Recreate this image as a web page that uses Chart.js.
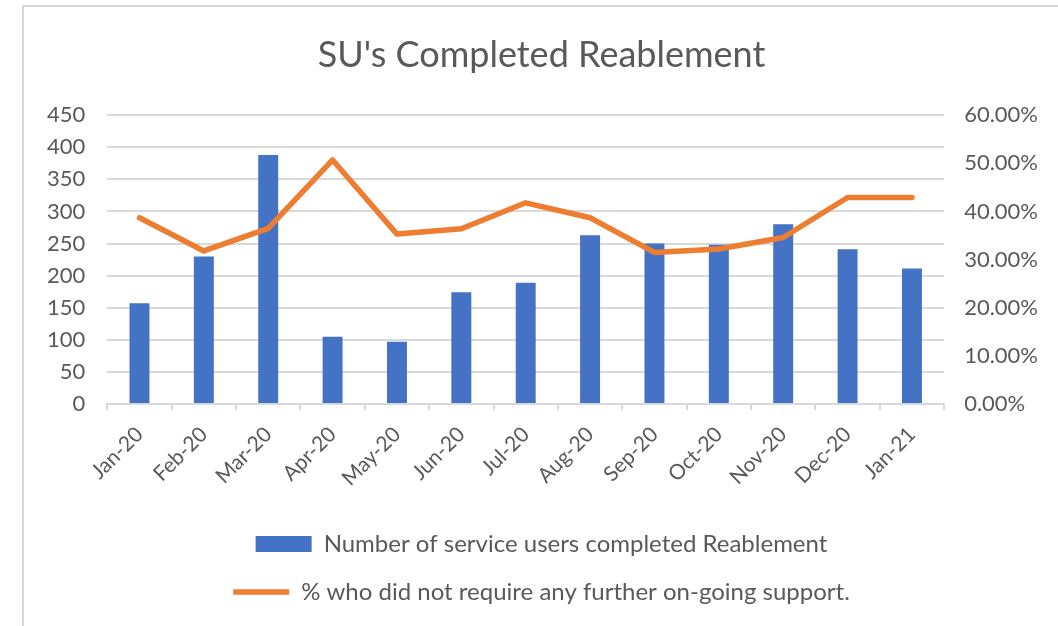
<!DOCTYPE html>
<html>
<head>
<meta charset="utf-8">
<script src="https://cdn.jsdelivr.net/npm/chart.js@4.4.1/dist/chart.umd.min.js"></script>
<style>
  body { margin: 0; background: #fff; }
  .frame { position: absolute; left: 22px; top: 5px; width: 1100px; height: 700px;
           border-left: 2px solid #d9d9d9; border-top: 2px solid #d9d9d9; }
  .wrap { position: absolute; left: 0; top: 0; width: 1058px; height: 626px; }
</style>
</head>
<body>
<div class="frame"></div>
<div class="wrap"><canvas id="myChart" width="1058" height="626"></canvas></div>
<script>
  const months = ['Jan-20', 'Feb-20', 'Mar-20', 'Apr-20', 'May-20', 'Jun-20', 'Jul-20',
                  'Aug-20', 'Sep-20', 'Oct-20', 'Nov-20', 'Dec-20', 'Jan-21'];
  const completed = [157, 230, 388, 105, 97, 174, 189, 263, 250, 248, 280, 241, 211];
  const noFurtherSupport = [38.7, 31.8, 36.5, 50.7, 35.3, 36.4, 41.8, 38.7, 31.5, 32.2, 34.6, 42.9, 42.9];
  const leftTicks = [0, 50, 100, 150, 200, 250, 300, 350, 400, 450];
  const rightTicks = [0, 10, 20, 30, 40, 50, 60];

  const grey = '#595959';
  const font = 'Lato, "Open Sans", sans-serif';

  const ctx = document.getElementById('myChart').getContext('2d');
  const myChart = new Chart(ctx, {
    data: {
      labels: months,
      datasets: [{
        type: 'line',
        label: '% who did not require any further on-going support.',
        data: noFurtherSupport,
        yAxisID: 'yRight',
        borderColor: '#ED7D31',
        backgroundColor: '#ED7D31',
        borderWidth: 5.5,
        pointRadius: 0,
        pointHoverRadius: 0,
        pointStyle: 'line',
        tension: 0,
        borderJoinStyle: 'round',
        borderCapStyle: 'round',
        order: 1
      }, {
        type: 'bar',
        label: 'Number of service users completed Reablement',
        data: completed,
        yAxisID: 'yLeft',
        backgroundColor: '#4472C4',
        borderWidth: 0,
        pointStyle: 'rect',
        barPercentage: 0.31,
        categoryPercentage: 1,
        order: 2
      }]
    },
    options: {
      responsive: false,
      animation: false,
      layout: { padding: { left: 25, right: 0, top: 34, bottom: 12 } },
      plugins: {
        title: {
          display: true,
          text: "SU's Completed Reablement",
          color: grey,
          font: { family: font, size: 36, weight: 'normal' },
          padding: { top: 0, bottom: 38 }
        },
        legend: {
          position: 'bottom',
          reverse: true,
          labels: {
            usePointStyle: true,
            pointStyleWidth: 56,
            boxHeight: 16,
            color: grey,
            font: { family: font, size: 24 },
            padding: 24
          }
        },
        tooltip: { enabled: false }
      },
      scales: {
        x: {
          offset: true,
          grid: { offset: true, drawOnChartArea: false, drawTicks: true, tickLength: 6, color: '#d9d9d9', lineWidth: 2 },
          border: { color: '#d9d9d9', width: 2 },
          ticks: { color: grey, font: { family: font, size: 21 }, maxRotation: 45, minRotation: 45, padding: 12 },
          afterFit: scale => { scale.height += 5; }
        },
        yLeft: {
          position: 'left',
          min: 0,
          max: 450,
          afterBuildTicks: axis => { axis.ticks = leftTicks.map(v => ({ value: v })); },
          grid: { color: '#d9d9d9', lineWidth: 2, drawTicks: false },
          border: { display: false },
          ticks: { color: grey, font: { family: font, size: 22 }, padding: 22 }
        },
        yRight: {
          position: 'right',
          min: 0,
          max: 60,
          afterBuildTicks: axis => { axis.ticks = rightTicks.map(v => ({ value: v })); },
          grid: { drawOnChartArea: false, drawTicks: false },
          border: { display: false },
          ticks: { color: grey, font: { family: font, size: 22 }, padding: 20,
                   callback: v => v.toFixed(2) + '%' }
        }
      }
    }
  });
</script>
</body>
</html>
